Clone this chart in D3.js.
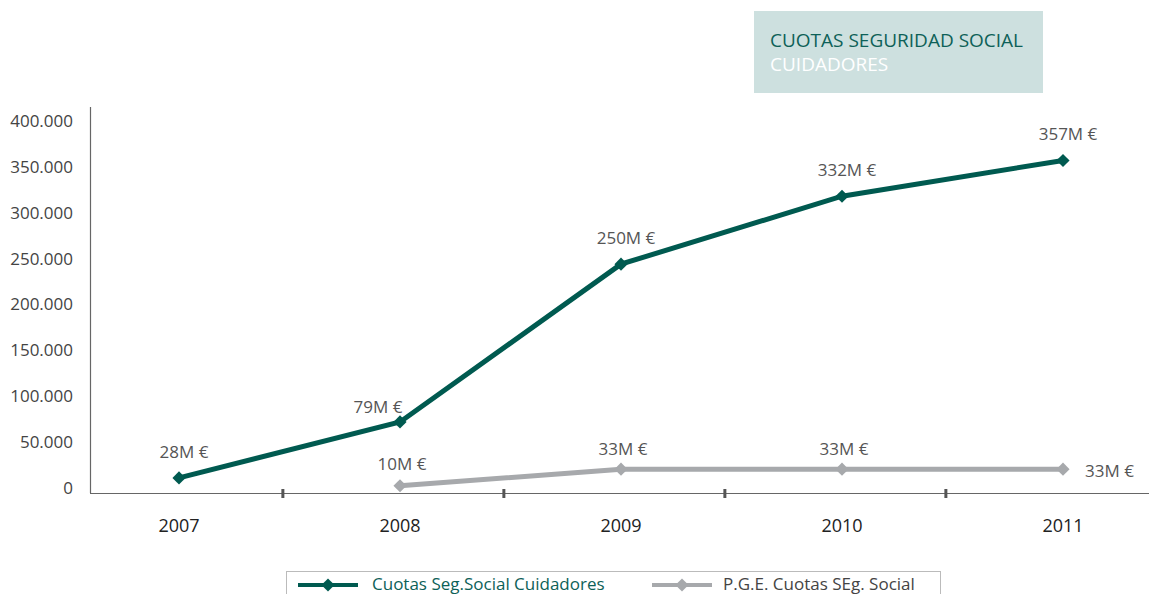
<!DOCTYPE html>
<html>
<head>
<meta charset="utf-8">
<script src="https://cdn.jsdelivr.net/npm/d3@7"></script>
<style>
  body { margin: 0; background: #fff; }
  svg { display: block; font-family: "Open Sans", sans-serif; }
</style>
</head>
<body>
<div id="chart"></div>
<script>
const years = [2007, 2008, 2009, 2010, 2011];
const cuidadores = [11000, 72000, 244000, 318000, 357000];
const cuidadoresLabels = ["28M €", "79M €", "250M €", "332M €", "357M €"];
const pge = [null, 2500, 20500, 20500, 20500];
const pgeLabels = [null, "10M €", "33M €", "33M €", "33M €"];
const yTicks = [0, 50000, 100000, 150000, 200000, 250000, 300000, 350000, 400000];
const seriesNames = ["Cuotas Seg.Social Cuidadores", "P.G.E. Cuotas SEg. Social"];

const width = 1149, height = 594;
const green = "#005a50", gray = "#a7a9ac";

const svg = d3.select("#chart").append("svg")
  .attr("width", width)
  .attr("height", height);

// title box
svg.append("rect")
  .attr("x", 754).attr("y", 11)
  .attr("width", 289).attr("height", 82)
  .attr("fill", "#cde0df");
svg.append("text")
  .attr("x", 770).attr("y", 47)
  .attr("font-size", 19)
  .attr("fill", "#0d6158")
  .text("CUOTAS SEGURIDAD SOCIAL");
svg.append("text")
  .attr("x", 770).attr("y", 71)
  .attr("font-size", 19)
  .attr("fill", "#ffffff")
  .text("CUIDADORES");

const x = d3.scaleLinear().domain([2007, 2011]).range([179, 1063]);
const y = d3.scaleLinear().domain([0, 400000]).range([488, 121]);

// axes
svg.append("line")
  .attr("x1", 90.5).attr("x2", 90.5)
  .attr("y1", 107).attr("y2", 493)
  .attr("stroke", "#666").attr("stroke-width", 1.2);
svg.append("line")
  .attr("x1", 90).attr("x2", 1149)
  .attr("y1", 493.5).attr("y2", 493.5)
  .attr("stroke", "#666").attr("stroke-width", 1.2);

svg.append("g").selectAll("text")
  .data(yTicks)
  .join("text")
  .attr("x", 73)
  .attr("y", d => y(d))
  .attr("dy", "0.35em")
  .attr("text-anchor", "end")
  .attr("font-size", 17)
  .attr("fill", "#444")
  .text(d => d3.format(",")(d).replace(/,/g, "."));

// small tick marks between years
svg.append("g").selectAll("line")
  .data(years.slice(0, -1))
  .join("line")
  .attr("x1", d => x(d + 0.47)).attr("x2", d => x(d + 0.47))
  .attr("y1", 489).attr("y2", 498)
  .attr("stroke", "#555").attr("stroke-width", 3);

svg.append("g").selectAll("text")
  .data(years)
  .join("text")
  .attr("x", d => x(d))
  .attr("y", 532)
  .attr("text-anchor", "middle")
  .attr("font-size", 18)
  .attr("fill", "#222")
  .text(d => d);

const diamond = d3.symbol().type(d3.symbolDiamond2).size(110);

function drawSeries(values, labels, color, labelPos) {
  const pts = years.map((yr, i) => ({ yr, v: values[i], label: labels[i], i }))
    .filter(d => d.v != null);
  const line = d3.line().x(d => x(d.yr)).y(d => y(d.v));
  svg.append("path")
    .datum(pts)
    .attr("d", line)
    .attr("fill", "none")
    .attr("stroke", color)
    .attr("stroke-width", 5);
  svg.append("g").selectAll("path")
    .data(pts)
    .join("path")
    .attr("transform", d => `translate(${x(d.yr)},${y(d.v)})`)
    .attr("d", diamond)
    .attr("fill", color);
  svg.append("g").selectAll("text")
    .data(pts)
    .join("text")
    .each(function(d) {
      const p = labelPos(d);
      d3.select(this)
        .attr("x", x(d.yr) + p[0])
        .attr("y", y(d.v) + p[1])
        .attr("text-anchor", p[2]);
    })
    .attr("font-size", 17)
    .attr("fill", "#555")
    .text(d => d.label);
}

drawSeries(cuidadores, cuidadoresLabels, green, d => {
  if (d.i === 1) return [-22, -9, "middle"];
  return [5, -20, "middle"];
});
drawSeries(pge, pgeLabels, gray, d => {
  if (d.i === years.length - 1) return [22, 8, "start"];
  if (d.i === 1) return [2, -16, "middle"];
  return [2, -14, "middle"];
});

// legend
svg.append("rect")
  .attr("x", 286.5).attr("y", 571.5)
  .attr("width", 654).attr("height", 40)
  .attr("fill", "none")
  .attr("stroke", "#bbb");

const legendItems = [
  { name: seriesNames[0], color: green, text: "#0d6158", x: 298, tx: 372 },
  { name: seriesNames[1], color: gray, text: "#444", x: 652, tx: 723 }
];
const lg = svg.append("g").selectAll("g")
  .data(legendItems)
  .join("g");
lg.append("line")
  .attr("x1", d => d.x).attr("x2", d => d.x + 60)
  .attr("y1", 585).attr("y2", 585)
  .attr("stroke", d => d.color).attr("stroke-width", 4);
lg.append("path")
  .attr("transform", d => `translate(${d.x + 30},585)`)
  .attr("d", diamond)
  .attr("fill", d => d.color);
lg.append("text")
  .attr("x", d => d.tx)
  .attr("y", 590)
  .attr("font-size", 17)
  .attr("fill", d => d.text)
  .text(d => d.name);
</script>
</body>
</html>
